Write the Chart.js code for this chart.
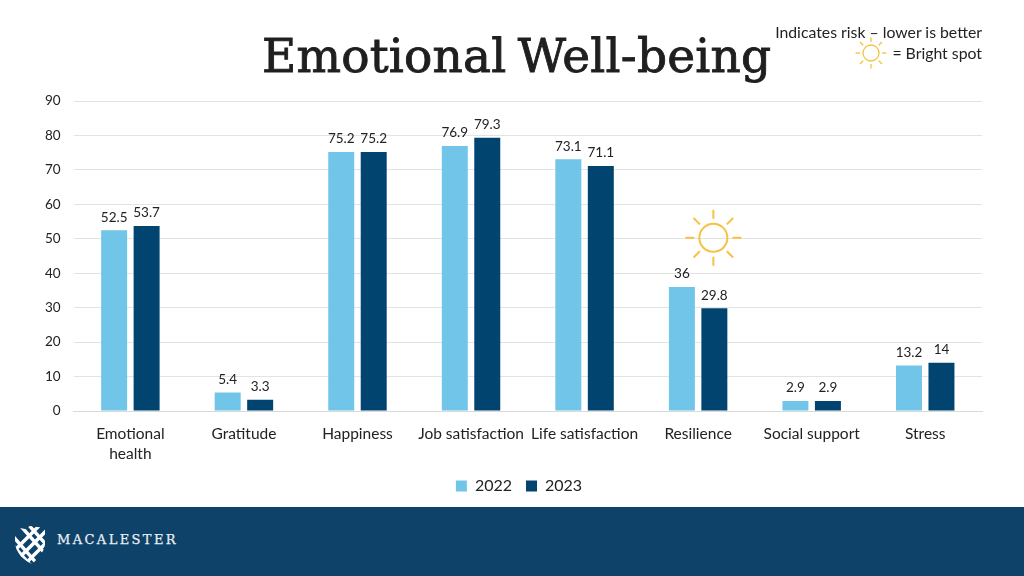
<!DOCTYPE html>
<html>
<head>
<meta charset="utf-8">
<title>Emotional Well-being</title>
<script src="https://cdn.jsdelivr.net/npm/chart.js@4"></script>
<style>
    html, body { margin: 0; padding: 0; background: #fff; overflow: hidden; }
    #page { position: relative; width: 1024px; height: 576px; overflow: hidden; font-family: Lato, sans-serif; }
    #wrap { position: absolute; left: 14px; top: 0; width: 1010px; height: 507px; }
    #title { position: absolute; left: 262px; top: 28px; font: 47px "DejaVu Serif", serif; color: #1f1f1f; white-space: nowrap; word-spacing: -4px; letter-spacing: 0.2px; -webkit-text-stroke: 0.9px #1f1f1f; }
    .note { position: absolute; right: 42px; font-size: 15.8px; color: #222; white-space: nowrap; }
    #footer { position: absolute; left: 0; top: 507px; width: 1024px; height: 69px; background: #0f4269; }
    #wordmark { position: absolute; left: 57px; top: 25px; font: 13px "DejaVu Serif", serif; letter-spacing: 2.4px; color: #e8eef3; -webkit-text-stroke: 0.25px #e8eef3; }
    #logo { position: absolute; left: 14px; top: 18px; }
</style>
</head>
<body>
<div id="page">
    <div id="wrap"><canvas id="chart"></canvas></div>
    <div id="title">Emotional Well-being</div>
    <div class="note" style="top:22px">Indicates risk – lower is better</div>
    <div class="note" style="top:43px">= Bright spot</div>
    <div id="footer">
        <svg id="logo" width="32" height="40" viewBox="0 0 32 40">
            <defs><clipPath id="shield"><path d="M1 2 L11 4 L16 1 L31 3 L31 20 Q29 30 18 39 Q3 32 1 18 Z"/></clipPath></defs>
            <g clip-path="url(#shield)" stroke="#fff" stroke-width="3.4" fill="none">
                <path d="M-4 8 L26 42 M-4 17 L18 42 M4 -2 L36 34 M12 -3 L38 26"/>
                <path d="M-4 30 L30 -4 M2 36 L38 0 M10 40 L38 12"/>
            </g>
        </svg>
        <div id="wordmark">MACALESTER</div>
    </div>
</div>
<script>
const categories = [['Emotional', 'health'], 'Gratitude', 'Happiness', 'Job satisfaction', 'Life satisfaction', 'Resilience', 'Social support', 'Stress'];
const values2022 = [52.5, 5.4, 75.2, 76.9, 73.1, 36, 2.9, 13.2];
const values2023 = [53.7, 3.3, 75.2, 79.3, 71.1, 29.8, 2.9, 14];
const yTicks = [0, 10, 20, 30, 40, 50, 60, 70, 80, 90];

const fontName = 'Lato';
const textColor = '#222222';
const sunColor = '#f5c242';

function drawSun(ctx, x, y, r, inner, outer, width) {
    ctx.save();
    ctx.strokeStyle = sunColor;
    ctx.lineWidth = width;
    ctx.beginPath();
    ctx.arc(x, y, r, 0, Math.PI * 2);
    ctx.stroke();
    for (let i = 0; i < 8; i++) {
        const a = i * Math.PI / 4;
        ctx.beginPath();
        ctx.moveTo(x + Math.cos(a) * inner, y + Math.sin(a) * inner);
        ctx.lineTo(x + Math.cos(a) * outer, y + Math.sin(a) * outer);
        ctx.stroke();
    }
    ctx.restore();
}

// value labels above the bars, and the bright spot suns
const barLabels = {
    id: 'barLabels',
    // the legend sits under the middle of the plot, not under the middle of the canvas
    afterLayout(chart) {
        chart.legend.left += 21;
        chart.legend.right += 21;
        chart.legend.top -= 3;
        chart.legend.bottom -= 3;
    },
    afterDatasetsDraw(chart) {
        const ctx = chart.ctx;
        ctx.save();
        ctx.font = '13.5px ' + fontName;
        ctx.fillStyle = textColor;
        ctx.textAlign = 'center';
        ctx.textBaseline = 'middle';
        chart.data.datasets.forEach((ds, d) => {
            chart.getDatasetMeta(d).data.forEach((bar, i) => {
                ctx.fillText(String(ds.data[i]), bar.x, bar.y - 13);
            });
        });
        ctx.restore();

        const resilienceBar = chart.getDatasetMeta(1).data[5];
        drawSun(ctx, resilienceBar.x - 1, chart.scales.y.getPixelForValue(50) - 1, 14, 19, 28, 2);
        drawSun(ctx, 871 - 14, 53, 8, 11, 15.5, 1.3);
    }
};

new Chart(document.getElementById('chart'), {
    type: 'bar',
    data: {
        labels: categories,
        datasets: [
            { label: '2022', data: values2022, backgroundColor: '#70c5e8', categoryPercentage: 0.572, barPercentage: 0.8 },
            { label: '2023', data: values2023, backgroundColor: '#00446f', categoryPercentage: 0.572, barPercentage: 0.8 }
        ]
    },
    options: {
        responsive: true,
        maintainAspectRatio: false,
        animation: false,
        layout: { padding: { top: 101, right: 42, left: 0, bottom: 0 } },
        plugins: {
            tooltip: { enabled: false },
            title: { display: false },
            legend: {
                position: 'bottom',
                labels: {
                    boxWidth: 11,
                    boxHeight: 11,
                    padding: 14,
                    color: textColor,
                    font: { family: fontName, size: 16 }
                }
            }
        },
        scales: {
            x: {
                grid: { display: false },
                border: { color: '#d9d9d9' },
                afterFit(scale) { scale.height = 56; },
                ticks: {
                    autoSkip: false,
                    maxRotation: 0,
                    padding: 5,
                    color: textColor,
                    font: { family: fontName, size: 15.5, lineHeight: 1.3 }
                }
            },
            y: {
                min: 0,
                max: 90,
                afterFit(scale) { scale.width = 59.6; },
                afterBuildTicks(scale) { scale.ticks = yTicks.map(v => ({ value: v })); },
                grid: { color: '#e3e3e3', drawTicks: false },
                border: { display: false },
                ticks: {
                    padding: 13,
                    color: textColor,
                    font: { family: fontName, size: 13.5 }
                }
            }
        }
    },
    plugins: [barLabels]
});
</script>
</body>
</html>
